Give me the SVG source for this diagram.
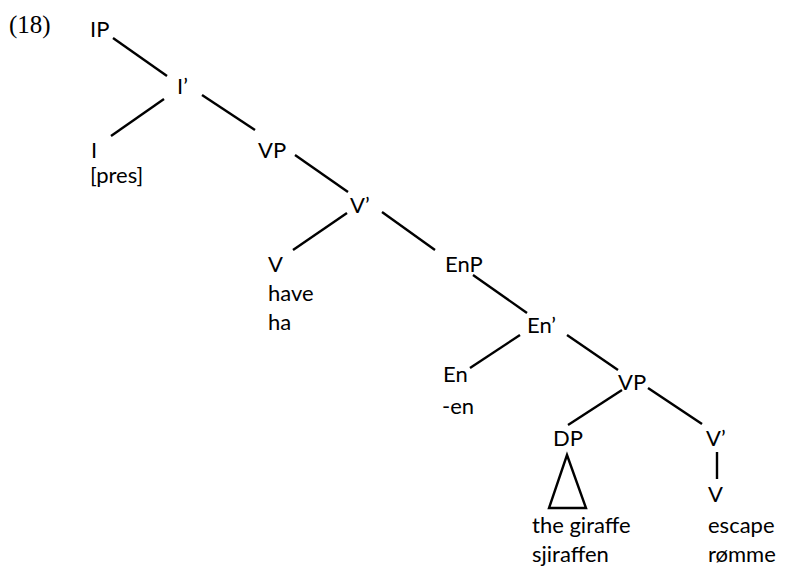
<svg xmlns="http://www.w3.org/2000/svg" width="785" height="568" viewBox="0 0 785 568">
  <style>
    .lbl { font-family: "Lato", "Open Sans", "Liberation Sans", sans-serif; font-size: 22px; fill: #000; }
    .num { font-family: "Liberation Serif", serif; font-size: 25px; fill: #000; }
    .edge { stroke: #000; stroke-width: 2.4; fill: none; stroke-linecap: butt; }
  </style>
  <rect width="785" height="568" fill="#fff"/>

  <text class="num" x="9" y="33">(18)</text>

  <g id="connectors">
    <line class="edge" x1="113" y1="38" x2="167" y2="76"/>
    <line class="edge" x1="164" y1="99" x2="111" y2="136"/>
    <line class="edge" x1="202" y1="95" x2="255" y2="130"/>
    <line class="edge" x1="295" y1="155" x2="348" y2="192"/>
    <line class="edge" x1="347" y1="213" x2="293" y2="250"/>
    <line class="edge" x1="382" y1="212" x2="435" y2="250"/>
    <line class="edge" x1="473" y1="275" x2="527" y2="313"/>
    <line class="edge" x1="520" y1="335" x2="470" y2="368"/>
    <line class="edge" x1="567" y1="335" x2="618" y2="370"/>
    <line class="edge" x1="622" y1="390" x2="568" y2="425"/>
    <line class="edge" x1="648" y1="388" x2="702" y2="424"/>
    <line class="edge" x1="717" y1="452" x2="717" y2="479"/>
  </g>

  <g id="IP"><text class="lbl" x="90" y="36.5">IP</text></g>
  <g id="Ibar"><text class="lbl" x="177" y="94">I’</text></g>
  <g id="I">
    <text class="lbl" x="91" y="158">I</text>
    <text class="lbl" x="90" y="183">[pres]</text>
  </g>
  <g id="VP1"><text class="lbl" x="258" y="158">VP</text></g>
  <g id="Vbar1"><text class="lbl" x="350" y="213">V’</text></g>
  <g id="V1">
    <text class="lbl" x="268" y="272">V</text>
    <text class="lbl" x="268" y="301">have</text>
    <text class="lbl" x="268" y="330">ha</text>
  </g>
  <g id="EnP"><text class="lbl" x="445" y="272">EnP</text></g>
  <g id="Enbar"><text class="lbl" x="527" y="333">En’</text></g>
  <g id="En">
    <text class="lbl" x="443" y="382">En</text>
    <text class="lbl" x="442" y="414">-en</text>
  </g>
  <g id="VP2"><text class="lbl" x="618" y="390">VP</text></g>
  <g id="DP">
    <text class="lbl" x="553" y="446">DP</text>
    <polygon points="567,455 549,508 586,508" fill="none" stroke="#000" stroke-width="2.4"/>
    <text class="lbl" x="532" y="533">the giraffe</text>
    <text class="lbl" x="532" y="562">sjiraffen</text>
  </g>
  <g id="Vbar2"><text class="lbl" x="706" y="446">V’</text></g>
  <g id="V2">
    <text class="lbl" x="708" y="502">V</text>
    <text class="lbl" x="708" y="533">escape</text>
    <text class="lbl" x="708" y="562">rømme</text>
  </g>
</svg>
